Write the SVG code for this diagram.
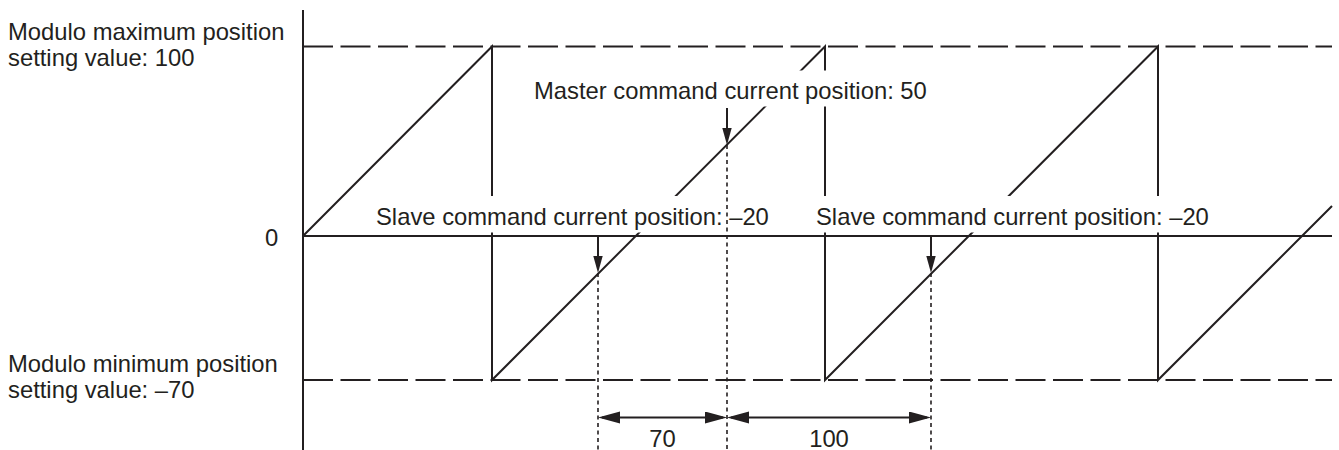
<svg xmlns="http://www.w3.org/2000/svg" width="1339" height="450" viewBox="0 0 1339 450">
<style>
.ln{stroke:#231f20;stroke-width:2;fill:none}
.dash{stroke:#231f20;stroke-width:2;fill:none;stroke-dasharray:30 7.5}
.dot{stroke:#231f20;stroke-width:1.6;fill:none;stroke-dasharray:4 3.5}
.t{font-family:"Liberation Sans",Arial,sans-serif;font-size:23.8px;fill:#231f20}
.mask{fill:#ffffff}
</style>
<defs>
<marker id="ptr" markerUnits="userSpaceOnUse" markerWidth="18" markerHeight="10" refX="13" refY="4.7" orient="auto">
<path d="M0,0 L17,4.7 L0,9.4 Z" fill="#231f20"/>
</marker>
<marker id="dim" markerUnits="userSpaceOnUse" markerWidth="23" markerHeight="13" refX="18" refY="6" orient="auto-start-reverse">
<path d="M0,0 L22,6 L0,12 Z" fill="#231f20"/>
</marker>
</defs>
<g id="axes">
<line class="ln" x1="303" y1="10" x2="303" y2="450"/>
<line class="ln" x1="303" y1="236" x2="1332" y2="236"/>
<line class="dash" x1="303" y1="46.5" x2="1332" y2="46.5"/>
<line class="dash" x1="303" y1="380" x2="1332" y2="380"/>
</g>
<g id="sawtooth">
<polyline class="ln" points="303,236 492,46.5 492,380 825,46.5 825,380 1158,46.5 1158,380 1332,206"/>
</g>
<g id="text-masks">
<rect class="mask" x="532" y="70.5" width="398" height="36"/>
<rect class="mask" x="373" y="196" width="403" height="36.5"/>
<rect class="mask" x="813" y="196" width="403" height="36.5"/>
</g>
<g id="connectors">
<line class="dot" x1="598" y1="273" x2="598" y2="450"/>
<line class="dot" x1="727" y1="145" x2="727" y2="450"/>
<line class="dot" x1="931" y1="273" x2="931" y2="450"/>
<line class="ln" x1="727" y1="108" x2="727" y2="141" marker-end="url(#ptr)"/>
<line class="ln" x1="598" y1="236" x2="598" y2="269" marker-end="url(#ptr)"/>
<line class="ln" x1="931" y1="236" x2="931" y2="269" marker-end="url(#ptr)"/>
<line class="ln" x1="602" y1="417.5" x2="723" y2="417.5" marker-start="url(#dim)" marker-end="url(#dim)"/>
<line class="ln" x1="731" y1="417.5" x2="927" y2="417.5" marker-start="url(#dim)" marker-end="url(#dim)"/>
</g>
<g id="label-max">
<text class="t" x="8" y="40">Modulo maximum position</text>
<text class="t" x="8" y="66">setting value: 100</text>
</g>
<g id="label-zero">
<text class="t" x="265" y="246">0</text>
</g>
<g id="label-min">
<text class="t" x="8" y="372">Modulo minimum position</text>
<text class="t" x="8" y="398">setting value: –70</text>
</g>
<g id="label-master">
<text class="t" x="534" y="99">Master command current position: 50</text>
</g>
<g id="label-slave-1">
<text class="t" x="376" y="225">Slave command current position: –20</text>
</g>
<g id="label-slave-2">
<text class="t" x="816" y="225">Slave command current position: –20</text>
</g>
<g id="label-dim-70">
<text class="t" x="662.5" y="447" text-anchor="middle">70</text>
</g>
<g id="label-dim-100">
<text class="t" x="829" y="447" text-anchor="middle">100</text>
</g>
</svg>
